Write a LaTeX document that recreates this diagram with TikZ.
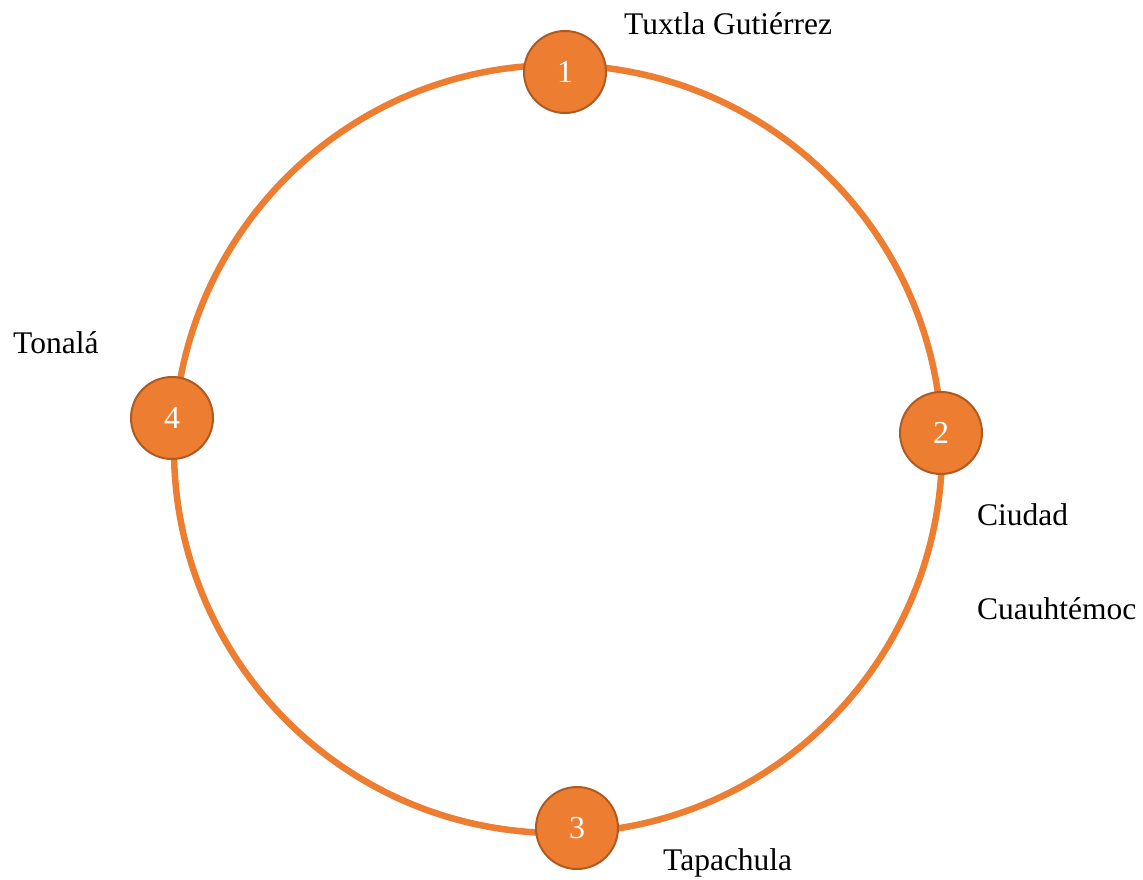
\documentclass[tikz,border=0pt]{standalone}
\usepackage{fontspec}
\setmainfont{Liberation Serif}
\usetikzlibrary{positioning}

\definecolor{ringorange}{HTML}{ED7D31}
\definecolor{stopborder}{HTML}{AE5A21}

\begin{document}
\begin{tikzpicture}[
    x=1pt, y=-1pt,
    ring/.style={
        draw=ringorange,
        line width=6.5pt
    },
    stop/.style={
        circle,
        draw=stopborder,
        line width=2pt,
        fill=ringorange,
        minimum size=82pt,
        inner sep=0pt,
        text=white,
        font=\fontsize{32}{36}\selectfont
    },
    city/.style={
        anchor=base west,
        inner sep=0pt,
        font=\fontsize{31.5}{38}\selectfont
    }
]

\useasboundingbox (0,0) rectangle (1143,880);

\coordinate (hub) at (558,449);
\draw[ring] (hub) circle[radius=384];

\node[stop] (tuxtla) at (565,72) {1};
\node[stop] (cuauhtemoc) at (941,433) {2};
\node[stop] (tapachula) at (577,828) {3};
\node[stop] (tonala) at (172,418) {4};

\node[city] (tuxtlaname) at (624,35) {Tuxtla Gutiérrez};
\node[city] (ciudadname) at (977,525) {Ciudad};
\node[city] (cuauhtemocname) at (977,619) {Cuauhtémoc};
\node[city] (tapachulaname) at (663,870) {Tapachula};
\node[city] (tonalaname) at (13,353) {Tonalá};

\end{tikzpicture}
\end{document}
